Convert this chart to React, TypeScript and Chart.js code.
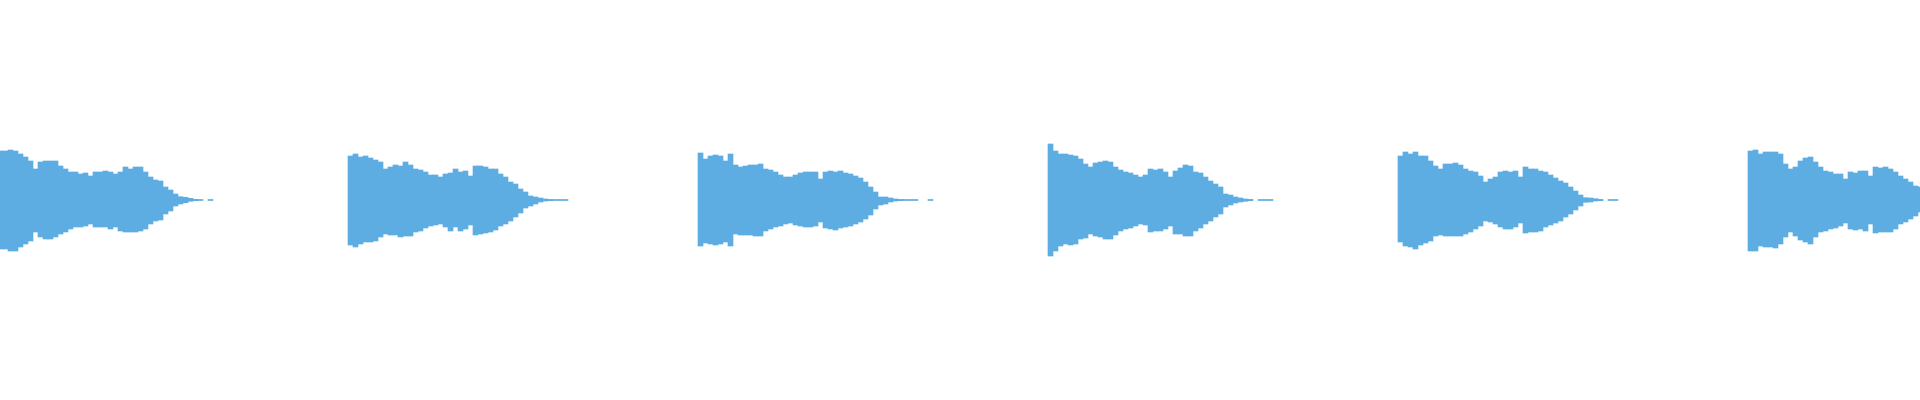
import { useEffect, useRef } from 'react';
import { Chart, registerables } from 'chart.js';

Chart.register(...registerables);

// peak amplitude of each 5px bin, above and below the centre line (px units)
const clip1Top = [49, 49, 50, 49, 46, 43, 39, 31, 38, 39, 39, 39, 34, 31, 28, 28, 26, 27, 24, 28, 28, 29, 28, 26, 28, 33, 31, 33, 33, 28, 23, 20, 19, 13, 10, 6, 3.3, 2.7, 1.7, 0.7, 0.5, 0, 0.5];
const clip1Bottom = [49, 49, 51, 51, 47, 44, 41, 32, 37, 39, 39, 37, 34, 32, 29, 27, 27, 26, 24, 27, 27, 27, 29, 27, 31, 32, 32, 32, 31, 29, 24, 21, 20, 14, 11, 6, 4, 2.7, 1.3, 0.7, 0.5, 0, 0.5];

const clip2Top = [44, 46, 43, 44, 42, 40, 38, 31, 33, 35, 34, 38, 35, 31, 30, 28, 25, 25, 23, 26, 27, 31, 28, 29, 24, 34, 34, 33, 31, 31, 26, 23, 18, 16, 11, 8, 4, 3, 2, 1, 0.6, 0.5, 0.5, 0.5];
const clip2Bottom = [45, 47, 44, 42, 42, 41, 37, 34, 35, 35, 37, 36, 36, 32, 31, 28, 26, 25, 24, 27, 31, 27, 31, 29, 25, 35, 34, 33, 32, 30, 26, 24, 21, 17, 13, 8, 6, 4, 2, 1, 0.7, 0.5, 0.5, 0.5];

const clip3Top = [47, 41, 44, 45, 44, 39, 46, 35, 33, 34, 35, 35, 36, 31, 30, 28, 25, 23, 23, 25, 27, 28, 28, 28, 21, 28, 29, 28, 29, 27, 26, 24, 22, 18, 13, 8, 3, 3, 2, 1, 0.6, 0.5, 0.5, 0.5, 0, 0, 0.5];
const clip3Bottom = [46, 43, 44, 45, 44, 42, 46, 34, 35, 35, 35, 36, 36, 31, 29, 27, 26, 24, 23, 25, 26, 27, 27, 26, 22, 28, 29, 30, 28, 27, 26, 24, 22, 19, 15, 9, 5, 4, 2, 1, 0.7, 0.5, 0.5, 0.5, 0, 0, 0.5];

const clip4Top = [56, 49, 46, 46, 45, 44, 41, 36, 33, 37, 38, 39, 38, 33, 30, 28, 27, 25, 23, 25, 31, 30, 31, 28, 23, 29, 32, 35, 34, 28, 27, 23, 19, 16, 13, 6, 5, 3, 2, 1, 0.6, 0, 0.5, 0.5, 0.5];
const clip4Bottom = [56, 51, 46, 44, 45, 44, 39, 38, 34, 36, 37, 39, 39, 35, 31, 29, 28, 26, 24, 25, 32, 31, 31, 29, 26, 34, 34, 36, 36, 31, 28, 24, 21, 17, 14, 7, 5, 3, 2, 1.3, 0.7, 0, 0.5, 0.5, 0.5];

const clip5Top = [44, 48, 46, 48, 44, 44, 39, 34, 31, 36, 36, 37, 35, 31, 29, 28, 24, 18, 21, 23, 28, 29, 28, 29, 23, 33, 31, 31, 29, 28, 25, 22, 19, 17, 13, 9, 5, 2.3, 2, 1.3, 0.6, 0, 0.5, 0.5];
const clip5Bottom = [42, 46, 47, 49, 45, 43, 41, 36, 35, 36, 36, 36, 36, 34, 32, 29, 26, 21, 22, 24, 27, 29, 29, 27, 23, 33, 32, 32, 31, 27, 25, 23, 21, 17, 14, 10, 6, 2.3, 2, 1, 0.7, 0, 0.5, 0.5];

const clip6Top = [49, 50, 46, 48, 48, 48, 46, 36, 31, 33, 39, 42, 43, 38, 33, 29, 28, 26, 26, 21, 28, 27, 29, 29, 24, 33, 32, 33, 31, 28, 24, 21, 18, 14, 13];
const clip6Bottom = [51, 51, 46, 47, 47, 48, 44, 37, 32, 36, 40, 42, 44, 37, 32, 31, 29, 28, 26, 23, 29, 30, 29, 31, 24, 33, 32, 32, 32, 29, 24, 22, 19, 16, 12];

// bin where each clip begins (clips repeat every 350px)
const clipStarts = [0, 70, 140, 210, 280, 350];
const binCount = 385;

const clipTops = [clip1Top, clip2Top, clip3Top, clip4Top, clip5Top, clip6Top];
const clipBottoms = [clip1Bottom, clip2Bottom, clip3Bottom, clip4Bottom, clip5Bottom, clip6Bottom];

const labels: string[] = [];
const values: ([number, number] | null)[] = [];
for (let i = 0; i < binCount; i++) {
  labels.push(String(i));
  values.push(null);
}
clipStarts.forEach((start, c) => {
  clipTops[c].forEach((top, i) => {
    const bottom = clipBottoms[c][i];
    if (top > 0 || bottom > 0) values[start + i] = [-bottom, top];
  });
});

const Waveform = () => {
  const chartRef = useRef<HTMLCanvasElement | null>(null);

  useEffect(() => {
    if (!chartRef.current) return;
    const ctx = chartRef.current.getContext('2d');
    if (!ctx) return;
    const chart = new Chart(ctx, {
      type: 'bar',
      data: {
        labels,
        datasets: [
          {
            data: values as any,
            backgroundColor: '#5dade2',
            borderWidth: 0,
            barPercentage: 1,
            categoryPercentage: 1,
          },
        ],
      },
      options: {
        animation: false,
        responsive: true,
        maintainAspectRatio: false,
        layout: { padding: 0 },
        plugins: {
          legend: { display: false },
          tooltip: { enabled: false },
        },
        scales: {
          x: { display: false },
          y: { display: false, min: -200, max: 200 },
        },
      },
    });
    return () => {
      chart.destroy();
    };
  }, []);

  return <canvas ref={chartRef}></canvas>;
};

export default function App() {
  return (
    <div style={{ position: 'fixed', left: 0, top: 0, width: 1920, height: 400, overflow: 'hidden', background: '#fff' }}>
      <div style={{ position: 'absolute', left: -2, top: 0, width: 1925, height: 400 }}>
        <Waveform />
      </div>
    </div>
  );
}
